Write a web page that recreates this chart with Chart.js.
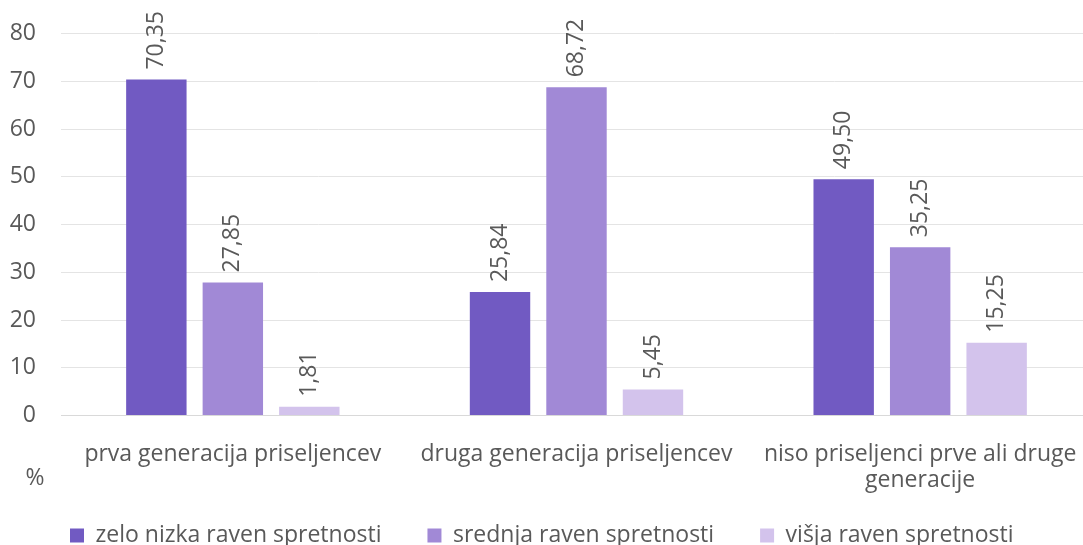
<!DOCTYPE html>
<html>
<head>
<meta charset="utf-8">
<script src="https://cdn.jsdelivr.net/npm/chart.js@4/dist/chart.umd.min.js"></script>
<style>
html,body{margin:0;padding:0;background:#fff;overflow:hidden;}
#wrap{width:1083px;height:545px;position:relative;overflow:hidden;}
#c{position:absolute;left:0;top:0;}
</style>
</head>
<body>
<div id="wrap"><canvas id="c" width="1092" height="557"></canvas></div>
<script>
const categories = [
  "prva generacija priseljencev",
  "druga generacija priseljencev",
  ["niso priseljenci prve ali druge", "generacije"]
];
const seriesNames = ["zelo nizka raven spretnosti", "srednja raven spretnosti", "višja raven spretnosti"];
const zeloNizka = [70.35, 25.84, 49.50];
const srednja = [27.85, 68.72, 35.25];
const visja = [1.81, 5.45, 15.25];
const yTicks = [0, 10, 20, 30, 40, 50, 60, 70, 80];
const unitLabel = "%";

const colors = ["#715AC2", "#A189D6", "#D3C3EC"];
const textColor = "#595959";
const FONT = "'Open Sans', 'Noto Sans', sans-serif";
const FS = 23;

const valueLabels = {
  id: 'valueLabels',
  afterDatasetsDraw(chart) {
    const ctx = chart.ctx;
    ctx.save();
    ctx.font = FS + "px " + FONT;
    ctx.fillStyle = textColor;
    ctx.textAlign = 'left';
    ctx.textBaseline = 'middle';
    chart.data.datasets.forEach((ds, di) => {
      const meta = chart.getDatasetMeta(di);
      meta.data.forEach((el, i) => {
        const txt = ds.data[i].toFixed(2).replace('.', ',');
        ctx.save();
        ctx.translate(el.x, el.y - 10);
        ctx.rotate(-Math.PI / 2);
        ctx.fillText(txt, 0, 0);
        ctx.restore();
      });
    });
    ctx.restore();
  }
};

const unitText = {
  id: 'unitText',
  afterDraw(chart) {
    const ctx = chart.ctx;
    ctx.save();
    ctx.font = FS + "px " + FONT;
    ctx.fillStyle = textColor;
    ctx.textAlign = 'center';
    ctx.textBaseline = 'middle';
    ctx.fillText(unitLabel, 35, 478);
    ctx.restore();
  }
};

new Chart(document.getElementById('c'), {
  type: 'bar',
  data: {
    labels: categories,
    datasets: [
      { label: seriesNames[0], data: zeloNizka, backgroundColor: colors[0] },
      { label: seriesNames[1], data: srednja, backgroundColor: colors[1] },
      { label: seriesNames[2], data: visja, backgroundColor: colors[2] }
    ]
  },
  options: {
    responsive: false,
    animation: false,
    devicePixelRatio: 1,
    categoryPercentage: 0.6676,
    barPercentage: 0.79,
    layout: { padding: { top: 33.5, left: 24, right: 0, bottom: 0 } },
    scales: {
      x: {
        grid: { display: false, drawTicks: false },
        border: { display: true, color: '#d9d9d9' },
        ticks: {
          color: textColor,
          font: { family: FONT, size: FS, lineHeight: 1.17 },
          padding: 25,
          maxRotation: 0,
          autoSkip: false
        },
        afterFit(scale) {
          scale.height = 62.5;
          scale.paddingLeft = 0;
          scale.paddingRight = 0;
          scale._computeLabelArea = () => undefined;
        }
      },
      y: {
        min: 0, max: 80,
        afterBuildTicks(scale) { scale.ticks = yTicks.map(v => ({ value: v })); },
        grid: { color: '#e4e4e4', drawTicks: false },
        border: { display: false },
        ticks: {
          color: textColor,
          font: { family: FONT, size: FS },
          padding: 25
        },
        afterFit(scale) {
          scale.width = 37;
          scale.paddingTop = 0;
          scale.paddingBottom = 0;
          scale._computeLabelArea = () => undefined;
        }
      }
    },
    plugins: {
      legend: {
        position: 'bottom',
        align: 'start',
        labels: {
          color: textColor,
          font: { family: FONT, size: FS },
          boxWidth: 14,
          boxHeight: 14,
          padding: 46
        }
      },
      tooltip: { enabled: false }
    }
  },
  plugins: [valueLabels, unitText]
});
</script>
</body>
</html>
